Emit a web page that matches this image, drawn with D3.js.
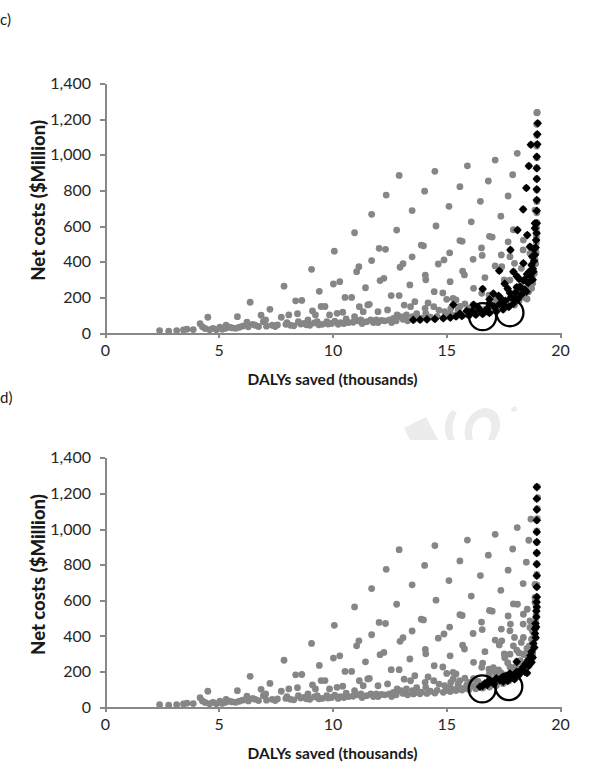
<!DOCTYPE html>
<html lang="en">
<head>
<meta charset="UTF-8">
<title>Net costs vs DALYs saved</title>
<script src="https://cdn.jsdelivr.net/npm/d3@7"></script>
<style>
  body { margin: 0; background: #fff; }
  svg text { font-family: Lato, "Open Sans", sans-serif; fill: #1a1a1a; }
  .axis path, .axis line { stroke: #888; stroke-width: 2; shape-rendering: crispEdges; }
  .axis text { font-size: 16px; fill: #262626; }
  .ytitle { font-size: 18.5px; font-weight: 900; }
  .xtitle { font-size: 15.5px; font-weight: bold; }
  .tag { font-size: 15px; }
</style>
</head>
<body>
<svg id="chart" width="600" height="767"></svg>
<script>
// axis ticks
const xTicks = [0, 5, 10, 15, 20];
const yTicks = [0, 200, 400, 600, 800, 1000, 1200, 1400];

// all scenarios (DALYs saved in thousands, net cost in $M) shown grey
const greyPoints = [
  [2.4,15],[2.8,12],[3.15,15],[3.45,19],[3.6,23],[3.88,21],[4.18,54],[4.28,36],[4.4,27],[4.52,90],
  [4.6,20],[4.75,28],[4.9,20],[5.05,34],[5.15,22],[5.32,45],[5.3,28],[5.47,34],[5.6,30],[5.75,28],
  [5.82,93],[5.9,34],[6.05,40],[6.24,62],[6.3,36],[6.38,174],[6.5,50],[6.6,45],[6.75,38],[6.86,101],
  [6.96,65],[7.06,75],[7.1,40],[7.25,134],[7.35,45],[7.48,38],[7.58,47],[7.75,90],[7.87,264],[7.95,50],
  [8.0,60],[8.08,103],[8.15,45],[8.3,42],[8.38,182],[8.46,110],[8.5,65],[8.6,52],[8.65,184],[8.75,56],
  [8.85,48],[8.92,75],[9.0,45],[9.08,358],[9.12,125],[9.2,58],[9.25,103],[9.33,65],[9.4,48],[9.42,235],
  [9.5,150],[9.55,50],[9.67,150],[9.75,65],[9.8,52],[9.87,103],[9.96,55],[10.04,276],[10.08,460],[10.1,68],
  [10.2,112],[10.25,50],[10.32,289],[10.35,60],[10.45,118],[10.5,55],[10.55,201],[10.6,80],[10.7,60],[10.84,201],
  [10.9,62],[10.97,563],[10.97,93],[11.06,345],[11.1,70],[11.16,373],[11.18,149],[11.25,75],[11.3,55],[11.35,121],
  [11.45,255],[11.5,65],[11.55,159],[11.62,162],[11.68,75],[11.72,666],[11.72,407],[11.8,60],[11.92,75],[12.0,121],
  [12.0,60],[12.05,476],[12.09,295],[12.15,72],[12.26,308],[12.3,70],[12.33,470],[12.36,774],[12.42,131],[12.5,75],
  [12.58,211],[12.6,60],[12.68,84],[12.8,70],[12.82,578],[12.84,103],[12.93,211],[12.93,884],[12.97,370],[13.0,93],
  [13.1,390],[13.1,78],[13.15,158],[13.25,103],[13.3,70],[13.4,271],[13.43,149],[13.5,687],[13.5,428],[13.52,93],
  [13.6,80],[13.62,177],[13.7,110],[13.9,85],[13.9,494],[14.0,490],[14.05,796],[14.07,140],[14.08,325],[14.1,300],
  [14.1,112],[14.2,170],[14.3,90],[14.45,149],[14.47,233],[14.5,907],[14.55,601],[14.6,95],[14.65,388],[14.68,130],
  [14.85,226],[14.9,411],[14.93,121],[15.0,95],[15.02,190],[15.12,711],[15.15,450],[15.17,289],[15.18,112],[15.2,140],
  [15.3,196],[15.4,100],[15.43,187],[15.52,131],[15.6,821],[15.6,519],[15.6,150],[15.7,515],[15.72,348],[15.8,327],
  [15.8,105],[15.82,164],[15.93,938],[16.0,140],[16.1,624],[16.18,414],[16.2,252],[16.2,159],[16.27,121],[16.5,739],
  [16.55,478],[16.56,224],[16.58,436],[16.7,312],[16.85,853],[16.88,214],[16.9,543],[17.0,208],[17.02,539],[17.15,970],
  [17.15,377],[17.2,186],[17.4,656],[17.42,439],[17.44,373],[17.55,299],[17.72,769],[17.72,512],[17.8,298],[17.8,429],
  [17.92,888],[17.95,580],[18.0,392],[18.12,1008],[18.3,364],[18.38,467],[18.39,522],[18.68,448],[18.9,690],[19.0,1237]
];

// scenarios picked out in panel c)
const blackC = [
  [13.55,75],[13.85,76],[14.15,78],[14.5,80],[14.87,84],[15.18,88],[15.43,94],[15.69,97],[16.0,100],[16.3,104],
  [16.6,108],[16.9,114],[17.2,122],[17.5,133],[17.75,148],[17.95,166],[18.15,190],[18.3,215],[18.45,245],[18.6,282],
  [18.7,320],[18.8,362],[18.86,405],[18.9,440],[18.93,480],[18.95,522],[18.97,560],[18.98,616],[18.98,686],[18.98,746],
  [18.98,806],[18.98,864],[18.98,924],[18.98,989],[19.0,1058],[19.0,1114],[19.02,1176],
  [15.31,160],[16.6,248],[17.33,350],[17.82,467],[18.13,578],[18.38,694],[18.52,814],[18.63,937],[18.72,1056],
  [17.07,222],[17.57,278],[17.95,345],[18.39,392],[18.68,485],[18.56,550],[18.75,382],[18.9,616],[18.9,588],
  [18.53,233],[18.24,254],[18.83,345],[18.55,330],
  [16.2,120],[16.5,128],[16.8,138],[17.1,150],[17.35,165],[17.6,182],[17.85,202],[18.05,228],[18.25,262],[18.45,300],
  [18.65,345],[16.4,145],[16.9,168],[17.4,195],[17.8,226],[18.1,258],[18.4,296],[18.78,430],[18.85,470],[16.0,118],
  [16.75,124],[17.5,160],[18.0,195],[18.2,305],[18.8,300],[15.6,110],[15.9,125],[16.2,160],[16.9,190],[17.3,210],
  [17.7,250],[18.1,320]
];

// scenarios picked out in panel d)
const blackD = [
  [18.98,1235],[18.98,1170],[18.98,1109],[18.98,1049],[18.98,983],[18.98,927],[18.98,866],[18.98,802],[18.98,738],[18.98,675],
  [18.98,619],[18.97,590],[18.98,563],[18.96,540],[18.96,507],[18.92,470],[18.95,451],[18.9,440],[18.9,414],[18.93,390],
  [18.83,358],[18.87,335],[18.75,311],[18.7,290],[18.8,280],[18.6,265],[18.75,252],[18.5,245],[18.62,232],[18.39,227],
  [18.3,212],[18.1,255],[18.1,199],[18.55,192],[18.45,200],[18.2,182],[18.0,185],[17.8,190],[17.9,166],[18.0,158],
  [17.5,171],[17.65,165],[17.7,148],[17.5,143],[17.35,152],[17.2,162],[17.05,142],[17.1,130],[16.9,153],[16.8,125],
  [16.7,134],[16.6,120],[16.48,115]
];

// ringed scenarios
const ringsC = [[16.6,93],[17.8,115]];
const ringsD = [[16.58,103],[17.75,116]];

const panels = [
  { tag: "c)", tagY: 25, top: 83.3, bottom: 333.3, black: blackC, rings: ringsC },
  { tag: "d)", tagY: 403, top: 457.7, bottom: 707.3, black: blackD, rings: ringsD }
];

const svg = d3.select("#chart");
const x = d3.scaleLinear().domain([0, 20]).range([105, 560]);
const allPoints = greyPoints.concat(blackC, blackD);
const diamond = "M0,-4.3L4.3,0L0,4.3L-4.3,0Z";

// faint scan watermark above panel d
svg.append("g").attr("fill", "#ececec")
  .selectAll("path")
  .data([
    "M404,428L426,417L438,440L410,440Z",
    "M452,410C444,418 443,432 448,440L455,440C451,432 452,420 457,413Z",
    "M466,440C462,428 468,414 480,409C492,405 502,414 500,428L495,440L488,440C493,428 493,418 484,417C474,418 470,428 473,440Z",
    "M511,408L516,406L517,411L512,412Z"
  ])
  .join("path").attr("d", d => d);

panels.forEach(p => {
  const y = d3.scaleLinear().domain([0, 1400]).range([p.bottom, p.top]);

  svg.append("text").attr("class", "tag").attr("x", 0).attr("y", p.tagY).text(p.tag);

  svg.append("g").attr("class", "axis")
    .attr("transform", `translate(0,${p.bottom})`)
    .call(d3.axisBottom(x).tickValues(xTicks).tickSize(5).tickSizeOuter(0).tickPadding(6));

  svg.append("g").attr("class", "axis")
    .attr("transform", `translate(${x(0)},0)`)
    .call(d3.axisLeft(y).tickValues(yTicks).tickFormat(d3.format(",")).tickSize(5).tickSizeOuter(0).tickPadding(9));

  svg.append("text").attr("class", "xtitle")
    .attr("x", (x(0) + x(20)) / 2).attr("y", p.bottom + 52)
    .attr("text-anchor", "middle").text("DALYs saved (thousands)");

  svg.append("text").attr("class", "ytitle")
    .attr("transform", `translate(45,${(p.top + p.bottom) / 2 - 8}) rotate(-90)`)
    .attr("text-anchor", "middle").text("Net costs ($Million)");

  const g = svg.append("g");
  g.selectAll("circle.pt").data(allPoints).join("circle")
    .attr("class", "pt")
    .attr("cx", d => x(d[0])).attr("cy", d => y(d[1]))
    .attr("r", 3.4).attr("fill", "#868686");

  g.selectAll("path.dm").data(p.black).join("path")
    .attr("class", "dm")
    .attr("transform", d => `translate(${x(d[0])},${y(d[1])})`)
    .attr("d", diamond).attr("fill", "#000");

  g.selectAll("circle.ring").data(p.rings).join("circle")
    .attr("class", "ring")
    .attr("cx", d => x(d[0])).attr("cy", d => y(d[1]))
    .attr("r", 13.5).attr("fill", "none").attr("stroke", "#000").attr("stroke-width", 2.3);
});
</script>
</body>
</html>
